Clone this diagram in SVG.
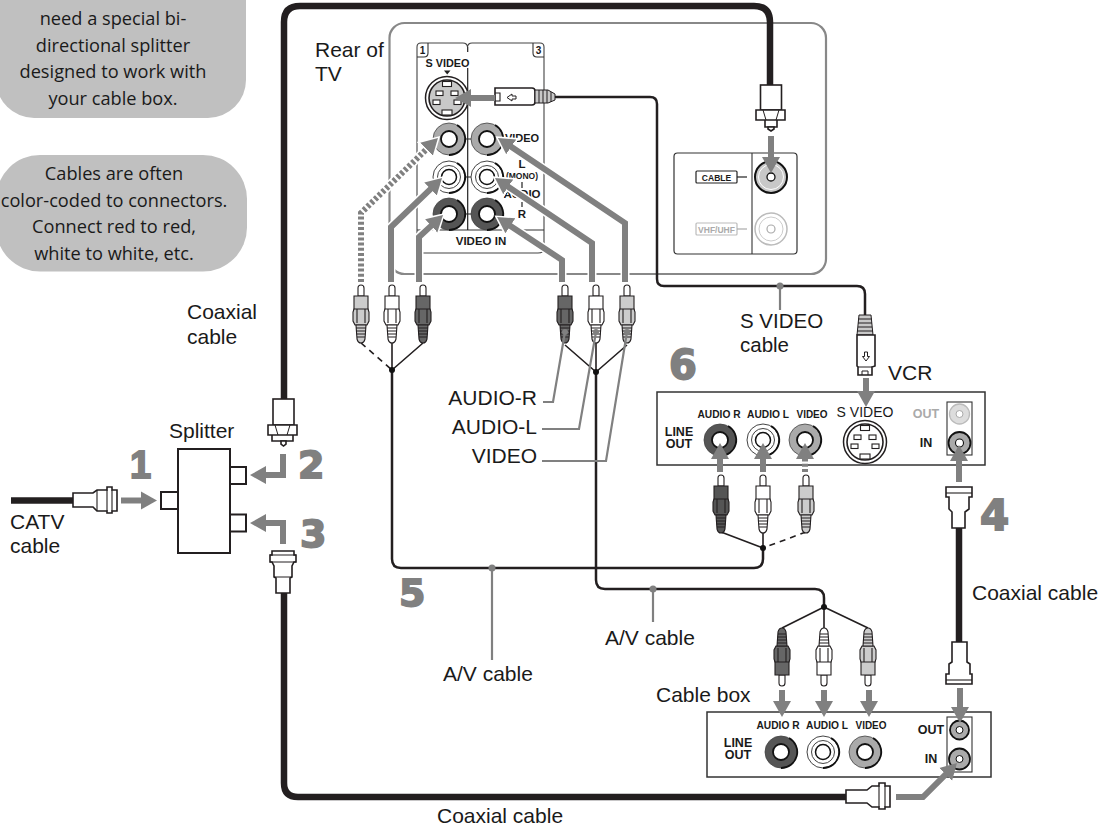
<svg xmlns="http://www.w3.org/2000/svg" xmlns:xlink="http://www.w3.org/1999/xlink" width="1112" height="830" viewBox="0 0 1112 830">
<style>
text{font-family:"Liberation Sans",Arial,sans-serif;fill:#1a1a1a}
.lb{font-size:21px}
.note{font-family:"Open Sans","Noto Sans",sans-serif;font-size:18.200px;font-weight:500;text-anchor:middle}
.pb{font-weight:bold;font-size:11.500px;text-anchor:middle}
.pb2{font-weight:bold;font-size:12.500px;text-anchor:middle}
.num{font-family:"DejaVu Sans",sans-serif;font-weight:bold;fill:#808080;stroke:#808080;stroke-width:1.800}
.coax{fill:none;stroke:#231f20;stroke-width:6.500}
.av{fill:none;stroke:#231f20;stroke-width:2.500}
.thin{fill:none;stroke:#231f20;stroke-width:1.600}
.dash{stroke-dasharray:6 5}
.lead{fill:none;stroke:#808080;stroke-width:2.200}
.dot{fill:#808080}
.a{fill:none;stroke:#808080;stroke-width:6;marker-end:url(#ah)}
.halo{fill:none;stroke:#fff;stroke-width:9;marker-end:url(#ahw)}
.dotted{stroke-dasharray:3 2.200}
.part{fill:#fff;stroke:#231f20;stroke-width:1.600}
.panel{fill:#fff;stroke:#333;stroke-width:1.500}
</style>
<defs>
<marker id="ah" markerUnits="userSpaceOnUse" markerWidth="18" markerHeight="20" refX="5" refY="10" orient="auto" viewBox="0 0 18 20"><path d="M0 1L16 10L0 19z" fill="#808080"/></marker>
<marker id="ahw" markerUnits="userSpaceOnUse" markerWidth="24" markerHeight="26" refX="7" refY="13" orient="auto" viewBox="0 0 24 26"><path d="M0 1L21 13L0 25z" fill="#fff"/></marker>
<g id="rca" stroke="#231f20" stroke-width="1.100">
<path d="M-3 11V3Q-3 0 0 0Q3 0 3 3V11z" fill="#fff"/>
<path d="M-7 11H7V28H-7z"/>
<path d="M-7 24H7L8 27V36L6 40H-6L-8 36V27z"/>
<path d="M-4 24V38M4 24V38" fill="none"/>
<path d="M-5 40H5L4 54Q3 58 0 58Q-3 58 -4 54z"/>
<path d="M-5 43H5M-5 46H5M-4.500 49H4.500M-4 52H4" fill="none"/>
</g>
<g id="jack">
<circle r="16" stroke="#444" stroke-width="0.800"/>
<path d="M8 -14A16 16 0 0 1 0 16" fill="none" stroke="#111" stroke-width="1.800"/>
<circle r="8" fill="#fff" stroke="#111" stroke-width="1.800"/>
</g>
<g id="jackw">
<circle r="16" fill="#fff" stroke="#444" stroke-width="1"/>
<path d="M8 -14A16 16 0 0 1 0 16" fill="none" stroke="#111" stroke-width="1.800"/>
<circle r="11.500" fill="#fff" stroke="#444" stroke-width="1"/>
<circle r="7.500" fill="#fff" stroke="#111" stroke-width="1.500"/>
</g>
<g id="sjack">
<circle r="21.500" fill="#fff" stroke="#231f20" stroke-width="1.500"/>
<circle r="18" stroke="#231f20" stroke-width="1.600"/>
<g fill="#fff" stroke="#231f20" stroke-width="1.100">
<rect x="-4.500" y="-16.500" width="9" height="5"/>
<rect x="-11" y="-7" width="7" height="4.500"/>
<rect x="4" y="-7" width="7" height="4.500"/>
<rect x="-14" y="2" width="7" height="4.500"/>
<rect x="7" y="2" width="7" height="4.500"/>
<rect x="-5" y="12" width="10" height="5"/>
</g>
</g>
</defs>

<g id="callouts">
<rect x="-4" y="-100" width="250" height="218" rx="38" fill="#c0c0c0"/>
<text class="note" x="113" y="25">need a special bi-</text>
<text class="note" x="113" y="52">directional splitter</text>
<text class="note" x="113" y="78">designed to work with</text>
<text class="note" x="113" y="105">your cable box.</text>
<rect x="-4" y="155" width="251" height="116.500" rx="44" fill="#c0c0c0"/>
<text class="note" x="114" y="180">Cables are often</text>
<text class="note" x="114" y="207">color-coded to connectors.</text>
<text class="note" x="114" y="233">Connect red to red,</text>
<text class="note" x="114" y="260">white to white, etc.</text>
</g>

<g id="tv-rear">
<rect x="389.500" y="23" width="436.500" height="251" rx="15" fill="none" stroke="#888" stroke-width="2.200"/>
<path d="M417 248V47Q417 43 421 43H463Q467 43 467.500 47Q468 43 472 43H540Q544 43 544 47V248Q544 253 538 253H423Q417 253 417 248" fill="none" stroke="#444" stroke-width="1.100"/>
<path d="M417 57H424Q428 57 428 53V43M544 57H537Q533 57 533 53V43M417 230H544" fill="none" stroke="#333" stroke-width="1.100"/>
<path d="M467.700 47V52M467.700 68V230" fill="none" stroke="#222" stroke-width="1.200"/>
<text x="422.500" y="54" style="font-size:10px;font-weight:bold" text-anchor="middle">1</text>
<text x="538.500" y="54" style="font-size:10px;font-weight:bold" text-anchor="middle">3</text>
<text class="pb" x="447.500" y="67" textLength="44" lengthAdjust="spacingAndGlyphs">S VIDEO</text>
<path d="M444 70.500H450.500L447.200 74.500z" fill="#222"/>
<use xlink:href="#sjack" href="#sjack" x="447" y="98" fill="#c8c8c8"/>
<path d="M449 139H487M449 177H487M449 214H487" stroke="#222" stroke-width="1.200"/>
<use xlink:href="#jack" href="#jack" x="449" y="139" fill="#aaa"/>
<use xlink:href="#jack" href="#jack" x="487" y="139" fill="#aaa"/>
<use xlink:href="#jackw" href="#jackw" x="449" y="177"/>
<use xlink:href="#jackw" href="#jackw" x="487" y="177"/>
<use xlink:href="#jack" href="#jack" x="449" y="214" fill="#555"/>
<use xlink:href="#jack" href="#jack" x="487" y="214" fill="#555"/>
<text class="pb" x="522" y="142" style="font-size:11px">VIDEO</text>
<text class="pb" x="522" y="168">L</text>
<text class="pb" x="522" y="179" style="font-size:8.500px">(MONO)</text>
<text class="pb" x="522" y="198">AUDIO</text>
<text class="pb" x="522" y="218">R</text>
<path d="M522 182V188M522 202V207" stroke="#222" stroke-width="1.200"/>
<text class="pb" x="481" y="245" style="font-size:11.500px">VIDEO IN</text>
<rect x="674" y="153" width="123" height="101" rx="3.500" fill="#fff" stroke="#333" stroke-width="1.200"/>
<path d="M752 153V254" stroke="#333" stroke-width="1.100"/>
<rect x="696" y="171" width="41" height="12" rx="1" fill="#fff" stroke="#222" stroke-width="1.200"/>
<text class="pb" x="716.500" y="180.500" style="font-size:8.500px">CABLE</text>
<path d="M737 177H747" stroke="#222" stroke-width="1.200"/>
<circle cx="771" cy="177" r="16" fill="#c8c8c8" stroke="#111" stroke-width="2"/>
<circle cx="771" cy="177" r="12.500" fill="none" stroke="#fff" stroke-width="1"/>
<circle cx="771" cy="177" r="4" fill="#fff" stroke="#111" stroke-width="1.300"/>
<rect x="696" y="223" width="41" height="12" rx="1" fill="#fff" stroke="#bbb" stroke-width="1.200"/>
<text class="pb" x="716.500" y="232.500" style="font-size:8.500px;fill:#aaa">VHF/UHF</text>
<path d="M737 229H747" stroke="#aaa" stroke-width="1.200"/>
<circle cx="771" cy="229" r="16" fill="#fff" stroke="#bbb" stroke-width="1.500"/>
<circle cx="771" cy="229" r="12" fill="none" stroke="#ccc" stroke-width="1"/>
<circle cx="771" cy="229" r="4" fill="#fff" stroke="#aaa" stroke-width="1.200"/>
</g>

<g id="connectors">
<path class="coax" d="M284 399V22Q284 6 300 6H754Q770 6 770 22V85"/>
<path class="coax" d="M284 593V783Q284 797 298 797H846"/>
<path class="coax" d="M11 500.500H73"/>
<path class="coax" d="M959 528V642"/>
<path class="av" d="M555 97H650Q657 97 657 104V279Q657 286 664 286H857Q865 286 865 294V315"/>
<path class="av" d="M392 370V559Q392 568 401 568H754Q763 568 763 559V548"/>
<path class="av" d="M596 372V580Q596 589 605 589H815Q824 589 824 598V607"/>
<path class="thin" d="M392 343V370M423 343L392 370"/>
<path class="thin dash" d="M361 343L392 370"/>
<path class="thin" d="M565 345L596 372M596 343V372M627 345L596 372"/>
<path class="thin" d="M721 532L763 548M763 532V548"/>
<path class="thin dash" d="M806 532L763 548"/>
<path class="thin" d="M782 628L824 607M824 628V607M868 628L824 607"/>
<circle cx="392" cy="370" r="3" fill="#111"/>
<circle cx="596" cy="372" r="3" fill="#111"/>
<circle cx="763" cy="548" r="3" fill="#111"/>
<circle cx="824" cy="607" r="3" fill="#111"/>
</g>

<g id="plugs-tv">
<use xlink:href="#rca" href="#rca" x="361" y="285" fill="#ccc"/>
<use xlink:href="#rca" href="#rca" x="392" y="285" fill="#fff"/>
<use xlink:href="#rca" href="#rca" x="423" y="285" fill="#666"/>
<use xlink:href="#rca" href="#rca" x="565" y="285" fill="#666"/>
<use xlink:href="#rca" href="#rca" x="596" y="285" fill="#fff"/>
<use xlink:href="#rca" href="#rca" x="627" y="285" fill="#ccc"/>
</g>

<g id="svideo-plug-tv">
<path class="part" d="M495 88H532Q535 88 535 91V102Q535 105 532 105H495z"/>
<path d="M495 93H500V101H495" fill="none" stroke="#231f20" stroke-width="1.100"/>
<path d="M507 97.500L512 94V96H516V99H512V101z" fill="#fff" stroke="#231f20" stroke-width="1"/>
<path d="M535 90H548L555 94V100L548 103H535z" fill="#c8c8c8" stroke="#231f20" stroke-width="1"/>
<path d="M539 90V103M543 90V103M547 90V103M551 92V102" stroke="#231f20" stroke-width="1"/>
</g>

<g id="coax-tv">
<rect class="part" x="760.500" y="85" width="21" height="25"/>
<path class="part" d="M756 110H785V120H756zM765 120H777V127H765z"/>
<path d="M763 110L766 120M779 110L776 120" stroke="#231f20" stroke-width="1" fill="none"/>
<path class="part" d="M768 127H774V129L771 131L768 129z"/>
</g>

<g id="vcr">
<rect class="panel" x="657" y="392" width="328" height="73"/>
<text class="pb" x="719" y="418" textLength="43" lengthAdjust="spacingAndGlyphs">AUDIO R</text>
<text class="pb" x="768" y="418" textLength="42" lengthAdjust="spacingAndGlyphs">AUDIO L</text>
<text class="pb" x="812" y="418" textLength="31" lengthAdjust="spacingAndGlyphs">VIDEO</text>
<text x="865" y="417" text-anchor="middle" style="font-size:14px">S VIDEO</text>
<text class="pb2" x="679" y="436">LINE</text>
<text class="pb2" x="679" y="448">OUT</text>
<text class="pb2" x="926" y="418" style="fill:#aaa">OUT</text>
<text class="pb2" x="926" y="447">IN</text>
<use xlink:href="#jack" href="#jack" x="720" y="440" fill="#555"/>
<use xlink:href="#jackw" href="#jackw" x="763" y="440"/>
<use xlink:href="#jack" href="#jack" x="805" y="440" fill="#aaa"/>
<use xlink:href="#sjack" href="#sjack" x="865" y="442" fill="#fff"/>
<rect x="947" y="402" width="25" height="53" fill="#fff" stroke="#333" stroke-width="1.100"/>
<circle cx="959.500" cy="414" r="10" fill="#ddd" stroke="#bbb" stroke-width="1.300"/>
<circle cx="959.500" cy="414" r="3.500" fill="#fff" stroke="#aaa" stroke-width="1"/>
<circle cx="959.500" cy="443" r="11" fill="#aaa" stroke="#111" stroke-width="1.800"/>
<circle cx="959.500" cy="443" r="4" fill="#fff" stroke="#111" stroke-width="1.100"/>
</g>

<g id="plugs-vcr">
<use xlink:href="#rca" href="#rca" x="721" y="475" fill="#555"/>
<use xlink:href="#rca" href="#rca" x="763" y="475" fill="#fff"/>
<use xlink:href="#rca" href="#rca" x="806" y="475" fill="#ccc"/>
</g>

<g id="svideo-plug-vcr">
<path d="M859 315H871L873 335H857z" fill="#c8c8c8" stroke="#231f20" stroke-width="1"/>
<path d="M858 319H872M858 323H872M858 327H872M857 331H873" stroke="#231f20" stroke-width="1"/>
<path class="part" d="M857 335H875V366L872 367V375H858V367L857 366z"/>
<path d="M858 367H872M862 375V371H868V375" fill="none" stroke="#231f20" stroke-width="1"/>
<path d="M866 361L862.500 356.500H864.500V352H867.500V356.500H869.500z" fill="#fff" stroke="#231f20" stroke-width="1"/>
</g>

<g id="coax-vcr-in">
<path class="part" d="M946 487H972V497H969V509L965 512V528H952V512L949 509V497H946z"/>
<path d="M946 493H972" stroke="#231f20" stroke-width="1.100"/>
</g>

<g id="cable-box">
<rect class="panel" x="707" y="712" width="284" height="65"/>
<text class="pb" x="778" y="729" textLength="43" lengthAdjust="spacingAndGlyphs">AUDIO R</text>
<text class="pb" x="827" y="729" textLength="42" lengthAdjust="spacingAndGlyphs">AUDIO L</text>
<text class="pb" x="871" y="729" textLength="31" lengthAdjust="spacingAndGlyphs">VIDEO</text>
<text class="pb2" x="738" y="747">LINE</text>
<text class="pb2" x="738" y="759">OUT</text>
<text class="pb2" x="931" y="734">OUT</text>
<text class="pb2" x="931" y="763">IN</text>
<use xlink:href="#jack" href="#jack" x="781" y="752" fill="#555"/>
<use xlink:href="#jackw" href="#jackw" x="823" y="752"/>
<use xlink:href="#jack" href="#jack" x="865" y="752" fill="#aaa"/>
<rect x="947" y="717" width="25" height="55" fill="#fff" stroke="#333" stroke-width="1.100"/>
<circle cx="959.500" cy="730" r="9.500" fill="#aaa" stroke="#111" stroke-width="1.800"/>
<circle cx="959.500" cy="730" r="3.500" fill="#fff" stroke="#111" stroke-width="1"/>
<circle cx="959.500" cy="759" r="10.500" fill="#aaa" stroke="#111" stroke-width="1.800"/>
<circle cx="959.500" cy="759" r="3.500" fill="#fff" stroke="#111" stroke-width="1"/>
</g>

<g id="plugs-box">
<use xlink:href="#rca" href="#rca" transform="translate(782 686) scale(1 -1)" fill="#666"/>
<use xlink:href="#rca" href="#rca" transform="translate(824 686) scale(1 -1)" fill="#fff"/>
<use xlink:href="#rca" href="#rca" transform="translate(868 686) scale(1 -1)" fill="#ccc"/>
</g>

<g id="coax-box-out">
<path class="part" d="M952 642H967V662L970 664V674H972V684H946V674H949V664L952 662z"/>
<path d="M946 680H972" stroke="#231f20" stroke-width="1.100"/>
</g>

<g id="coax-box-in">
<path class="part" d="M846 790H867L872 786H879V783H885V786H890V807H885V809H879V807H872L867 803H846z"/>
<path d="M879 786V807M885 786V807" stroke="#231f20" stroke-width="1.100"/>
</g>

<g id="splitter">
<rect class="part" style="stroke-width:2" x="178" y="449" width="52" height="104"/>
<rect class="part" style="stroke-width:2" x="161" y="492" width="17" height="17"/>
<rect class="part" style="stroke-width:2" x="230" y="467" width="16" height="17"/>
<rect class="part" style="stroke-width:2" x="230" y="514.500" width="16" height="17"/>
</g>

<g id="coax-catv">
<path class="part" d="M73 493H93L97 490H107V487H112V490H117V511H112V513H107V511H97L93 507H73z"/>
<path d="M107 490V511M112 490V511M97 490V511" stroke="#231f20" stroke-width="1.100"/>
</g>

<g id="coax-splitter-top">
<rect class="part" x="273" y="399" width="21" height="26"/>
<path class="part" d="M268 425H297V435H268zM272 435H293V441H272z"/>
<path d="M275 425L278 435M290 425L287 435" stroke="#231f20" stroke-width="1" fill="none"/>
<path class="part" d="M281 441H286V444L283.500 446L281 444z"/>
</g>

<g id="coax-splitter-bottom">
<path class="part" d="M272 551H294V555H296V562H294L292 566V577L290 578V593H276V578L274 577V566L272 562H270V555H272z"/>
<path d="M270 555H296M270 562H296M274 577H292" stroke="#231f20" stroke-width="1"/>
</g>

<g id="arrows">
<path class="halo" d="M361 282V213L430.100 145.700"/>
<path class="halo" d="M391 282V227L434.100 185.600"/>
<path class="halo" d="M419 282V237L434.900 222.400"/>
<path class="halo" d="M562 282V260L506.200 223.100"/>
<path class="halo" d="M592 282V243L504.100 184.100"/>
<path class="halo" d="M625 282V223L507.100 144.100"/>
<path class="a dotted" d="M361 282V213L430.100 145.700"/>
<path class="a" d="M391 282V227L434.100 185.600"/>
<path class="a" d="M419 282V237L434.900 222.400"/>
<path class="a" d="M562 282V260L506.200 223.100"/>
<path class="a" d="M592 282V243L504.100 184.100"/>
<path class="a" d="M625 282V223L507.100 144.100"/>
<path class="a" d="M495 98H466"/>
<path class="a" d="M771 136V162"/>
<path class="a" d="M866 378V396"/>
<path class="a" d="M720 472V454"/>
<path class="a" d="M763 472V454"/>
<path class="a dotted" d="M805 472V454"/>
<path class="a" d="M959 482V456"/>
<path class="a" d="M782 690V706"/>
<path class="a" d="M824 690V706"/>
<path class="a" d="M869 690V706"/>
<path class="a" d="M960 688V712"/>
<path class="a" d="M896 797H923L949.200 770.800"/>
<path class="a" d="M121 500.500H146"/>
<path class="a" d="M283 454V475H261"/>
<path class="a" d="M283 544V523H261"/>
</g>

<g id="leaders">
<path class="lead" d="M543 402H553L565 332"/><circle class="dot" cx="565" cy="332" r="3"/>
<path class="lead" d="M542 429H579L596 332"/><circle class="dot" cx="596" cy="332" r="3"/>
<path class="lead" d="M542 461H606L627 332"/><circle class="dot" cx="627" cy="332" r="3"/>
<path class="lead" d="M780 286V310"/><circle class="dot" cx="780" cy="286" r="3.500"/>
<path class="lead" d="M492 568V660"/><circle class="dot" cx="492" cy="568" r="3.500"/>
<path class="lead" d="M653 589V622"/><circle class="dot" cx="653" cy="589" r="3.500"/>
</g>

<g id="labels">
<text class="lb" x="315" y="57">Rear of</text>
<text class="lb" x="315" y="81">TV</text>
<text class="lb" x="187" y="319">Coaxial</text>
<text class="lb" x="187" y="344">cable</text>
<text class="lb" x="169" y="438">Splitter</text>
<text class="lb" x="10" y="529">CATV</text>
<text class="lb" x="10" y="553">cable</text>
<text class="lb" x="537" y="405" text-anchor="end">AUDIO-R</text>
<text class="lb" x="537" y="434" text-anchor="end">AUDIO-L</text>
<text class="lb" x="537" y="463" text-anchor="end">VIDEO</text>
<text class="lb" x="740" y="328" style="font-size:20.500px">S VIDEO</text>
<text class="lb" x="740" y="352" style="font-size:20.500px">cable</text>
<text class="lb" x="888" y="380">VCR</text>
<text class="lb" x="972" y="600">Coaxial cable</text>
<text class="lb" x="443" y="681">A/V cable</text>
<text class="lb" x="605" y="645">A/V cable</text>
<text class="lb" x="656" y="702">Cable box</text>
<text class="lb" x="437" y="823">Coaxial cable</text>
<text class="num" x="130" y="478" font-size="38" style="font-family:'Liberation Sans',sans-serif">1</text>
<text class="num" x="298" y="478" font-size="38">2</text>
<text class="num" x="300" y="547" font-size="38">3</text>
<text class="num" x="980" y="530" font-size="42">4</text>
<text class="num" x="399" y="606" font-size="38">5</text>
<text class="num" x="669" y="379" font-size="40">6</text>
</g>
</svg>
